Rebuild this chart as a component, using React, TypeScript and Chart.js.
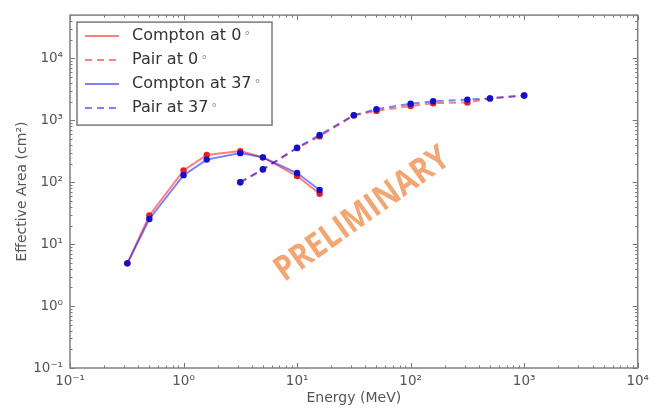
import React, { useEffect, useRef } from 'react';
import { Chart, registerables } from 'chart.js';

Chart.register(...registerables);

// ---- Data ----
const comptonEnergy = [0.32, 0.5, 1.0, 1.6, 3.16, 5.0, 10, 15.8];
const compton0 = [4.9, 29, 155, 275, 318, 252, 126, 65];
const compton37 = [4.9, 25.5, 130, 232, 295, 252, 141, 75];

const pairEnergy = [3.16, 5.0, 10, 15.8, 31.6, 50, 100, 158, 316, 500, 1000];
const pair0 = [100, 160, 355, 550, 1200, 1420, 1700, 1890, 1940, 2260, 2520];
const pair37 = [100, 162, 361, 580, 1210, 1510, 1850, 2030, 2160, 2260, 2520];

const seriesLabels = ['Compton at 0°', 'Pair at 0°', 'Compton at 37°', 'Pair at 37°'];

const xTickValues = [0.1, 1, 10, 100, 1000, 10000];
const xTickLabels = ['10⁻¹', '10⁰', '10¹', '10²', '10³', '10⁴'];
const yTickValues = [0.1, 1, 10, 100, 1000, 10000];
const yTickLabels = ['10⁻¹', '10⁰', '10¹', '10²', '10³', '10⁴'];

const xRange = [0.1, 10000];
const yRange = [0.1, 50000];

const xTitle = 'Energy (MeV)';
const yTitle = 'Effective Area (cm²)';
const watermarkText = 'PRELIMINARY';

const RED_LINE = 'rgba(255,0,0,0.5)';
const BLUE_LINE = 'rgba(0,0,255,0.5)';
const RED_PT = '#e32222';
const BLUE_PT = '#1010d0';
const DASH = [7, 5];

const toPoints = (xs: number[], ys: number[]) => xs.map((x, i) => ({ x, y: ys[i] }));

const minorValues = (min: number, max: number) => {
  const out: { v: number; major: boolean }[] = [];
  const e0 = Math.floor(Math.log10(min));
  const e1 = Math.ceil(Math.log10(max));
  for (let e = e0; e <= e1; e++) {
    for (let m = 1; m <= 9; m++) {
      const v = m * Math.pow(10, e);
      if (v >= min * 0.9999 && v <= max * 1.0001) out.push({ v, major: m === 1 });
    }
  }
  return out;
};

const framePlugin = {
  id: 'frame',
  afterDraw(chart: any) {
    const { ctx, chartArea } = chart;
    const { left, right, top, bottom } = chartArea;
    const xs = chart.scales.x;
    const ys = chart.scales.y;
    ctx.save();

    // ticks (inward, all four sides)
    ctx.strokeStyle = '#777';
    ctx.lineWidth = 1;
    ctx.beginPath();
    for (const t of minorValues(xRange[0], xRange[1])) {
      const px = Math.round(xs.getPixelForValue(t.v)) + 0.5;
      const len = t.major ? 5 : 2.5;
      ctx.moveTo(px, bottom);
      ctx.lineTo(px, bottom - len);
      ctx.moveTo(px, top);
      ctx.lineTo(px, top + len);
    }
    for (const t of minorValues(yRange[0], yRange[1])) {
      const py = Math.round(ys.getPixelForValue(t.v)) + 0.5;
      const len = t.major ? 5 : 2.5;
      ctx.moveTo(left, py);
      ctx.lineTo(left + len, py);
      ctx.moveTo(right, py);
      ctx.lineTo(right - len, py);
    }
    ctx.stroke();

    // border
    ctx.strokeStyle = '#808080';
    ctx.lineWidth = 1.5;
    ctx.strokeRect(left, top, right - left, bottom - top);

    // watermark
    const cx = left + 0.515 * (right - left);
    const cy = top + 0.565 * (bottom - top);
    ctx.save();
    ctx.translate(cx, cy);
    ctx.rotate((-35.5 * Math.PI) / 180);
    ctx.scale(0.88, 1);
    ctx.font = 'bold 27px "Open Sans"';
    const w = ctx.measureText(watermarkText).width;
    const size = (27 * 206) / (w * 0.88);
    ctx.font = `bold ${size.toFixed(1)}px "Open Sans"`;
    ctx.fillStyle = 'rgba(240,150,90,0.85)';
    ctx.textAlign = 'center';
    ctx.textBaseline = 'middle';
    ctx.fillText(watermarkText, 0, 0);
    ctx.restore();

    // legend
    const lx = left + 7;
    const ly = top + 7;
    const lw = 195;
    const lh = 103;
    ctx.fillStyle = '#ffffff';
    ctx.fillRect(lx, ly, lw, lh);
    ctx.strokeStyle = '#7a7a7a';
    ctx.lineWidth = 1.5;
    ctx.strokeRect(lx, ly, lw, lh);
    const order = [0, 1, 2, 3];
    order.forEach((idx, i) => {
      const ds = chart.data.datasets.find((d: any) => d.legendIndex === idx);
      const rowY = ly + 14 + i * 24;
      ctx.save();
      ctx.strokeStyle = ds.borderColor;
      ctx.lineWidth = 2;
      ctx.setLineDash(ds.borderDash || []);
      ctx.beginPath();
      ctx.moveTo(lx + 8, rowY);
      ctx.lineTo(lx + 42, rowY);
      ctx.stroke();
      ctx.restore();
      const label: string = ds.label;
      const main = label.replace('°', '');
      ctx.font = '16px "DejaVu Sans"';
      ctx.fillStyle = '#333';
      ctx.textAlign = 'left';
      ctx.textBaseline = 'middle';
      ctx.fillText(main, lx + 55, rowY);
      const mw = ctx.measureText(main).width;
      ctx.font = '12px "DejaVu Sans"';
      ctx.fillStyle = '#999';
      ctx.fillText('°', lx + 55 + mw + 3, rowY + 1);
    });

    ctx.restore();
  },
};

export default function App() {
  const ref = useRef<HTMLCanvasElement | null>(null);

  useEffect(() => {
    if (!ref.current) return;
    const common = {
      borderWidth: 2,
      pointRadius: 3.2,
      pointBorderWidth: 0,
      pointHoverRadius: 3.2,
      tension: 0,
      fill: false,
    };
    const chart = new Chart(ref.current, {
      type: 'line',
      data: {
        datasets: [
          {
            ...common,
            label: seriesLabels[2],
            legendIndex: 2,
            data: toPoints(comptonEnergy, compton37),
            borderColor: BLUE_LINE,
            pointBackgroundColor: BLUE_PT,
            order: 0,
          },
          {
            ...common,
            label: seriesLabels[3],
            legendIndex: 3,
            data: toPoints(pairEnergy, pair37),
            borderColor: BLUE_LINE,
            borderDash: DASH,
            pointBackgroundColor: BLUE_PT,
            order: 0,
          },
          {
            ...common,
            label: seriesLabels[0],
            legendIndex: 0,
            data: toPoints(comptonEnergy, compton0),
            borderColor: RED_LINE,
            pointBackgroundColor: RED_PT,
            order: 1,
          },
          {
            ...common,
            label: seriesLabels[1],
            legendIndex: 1,
            data: toPoints(pairEnergy, pair0),
            borderColor: RED_LINE,
            borderDash: DASH,
            pointBackgroundColor: RED_PT,
            order: 1,
          },
        ] as any,
      },
      options: {
        animation: false,
        responsive: false,
        devicePixelRatio: 1,
        layout: { padding: { top: 6, right: 13, left: 0, bottom: 0 } },
        plugins: {
          legend: { display: false },
          tooltip: { enabled: false },
        },
        scales: {
          x: {
            type: 'logarithmic',
            min: xRange[0],
            max: xRange[1],
            grid: { display: false, drawTicks: false },
            border: { display: false },
            afterBuildTicks: (s: any) => {
              s.ticks = xTickValues.map((v) => ({ value: v }));
            },
            afterFit: (s: any) => {
              s.height = 40;
            },
            ticks: {
              autoSkip: false,
              maxRotation: 0,
              padding: 5,
              color: '#555',
              font: { family: '"DejaVu Sans"', size: 13.5 },
              callback: (_v: any, i: number) => xTickLabels[i],
            },
            title: {
              display: true,
              text: xTitle,
              color: '#555',
              font: { family: '"DejaVu Sans"', size: 14 },
              padding: { top: 0, bottom: 1 },
            },
          },
          y: {
            type: 'logarithmic',
            min: yRange[0],
            max: yRange[1],
            grid: { display: false, drawTicks: false },
            border: { display: false },
            afterBuildTicks: (s: any) => {
              s.ticks = yTickValues.map((v) => ({ value: v }));
            },
            afterFit: (s: any) => {
              s.width = 70;
            },
            ticks: {
              autoSkip: false,
              padding: 7,
              color: '#555',
              font: { family: '"DejaVu Sans"', size: 13.5 },
              callback: (_v: any, i: number) => yTickLabels[i],
            },
            title: {
              display: true,
              text: yTitle,
              color: '#555',
              font: { family: '"DejaVu Sans"', size: 14 },
              padding: { top: 13.5, bottom: 0 },
            },
          },
        },
      } as any,
      plugins: [framePlugin],
    });
    return () => chart.destroy();
  }, []);

  return (
    <div style={{ position: 'absolute', left: 0, top: 0, width: 654, height: 408, background: '#fff' }}>
      <canvas ref={ref} width={654} height={408} />
    </div>
  );
}
